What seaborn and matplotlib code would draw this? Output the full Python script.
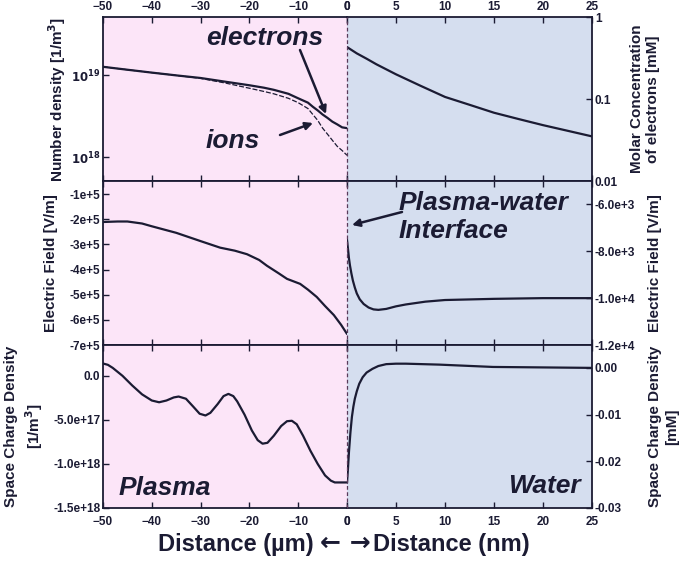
import numpy as np
import pandas as pd
import seaborn as sns
import matplotlib.pyplot as plt
from matplotlib.ticker import FixedLocator, FixedFormatter, NullLocator

# ---- data ----
# plasma side, x in micrometres
x_ne = [-50, -45, -40, -35, -30, -25, -20, -17, -15, -12, -10, -8, -7, -6, -5, -4, -3, -2, -1, 0]
n_electrons = [1.26e19, 1.16e19, 1.07e19, 9.9e18, 9.2e18, 8.3e18, 7.5e18, 7.0e18, 6.6e18, 5.9e18,
               5.2e18, 4.6e18, 4.1e18, 3.7e18, 3.3e18, 3.0e18, 2.7e18, 2.5e18, 2.3e18, 2.25e18]
n_ions = [1.26e19, 1.16e19, 1.07e19, 9.9e18, 9.1e18, 8.0e18, 6.9e18, 6.3e18, 5.9e18, 5.2e18,
          4.6e18, 3.9e18, 3.3e18, 2.8e18, 2.25e18, 1.9e18, 1.6e18, 1.35e18, 1.2e18, 1.05e18]

x_ef = [-50, -47, -45, -42, -40, -35, -30, -26, -23, -20.5, -18, -16.4, -14, -12.3, -9.6,
        -8, -6.2, -4.5, -2.7, -1.2, 0]
e_field_plasma = [-2.11e5, -2.09e5, -2.09e5, -2.17e5, -2.28e5, -2.54e5, -2.87e5, -3.13e5,
                  -3.25e5, -3.39e5, -3.62e5, -3.85e5, -4.15e5, -4.37e5, -4.57e5, -4.8e5,
                  -5.09e5, -5.45e5, -5.81e5, -6.2e5, -6.56e5]

x_sc = [-50, -49, -48, -46, -44, -42, -40, -38.5, -37, -35.5, -34.5, -33, -31.5, -30.2, -29,
        -28, -26.5, -25.3, -24.3, -23.3, -22.5, -21, -19.5, -18.3, -17.3, -16.3, -15, -13.5,
        -12.3, -11.3, -10.3, -9, -7.5, -6, -4.5, -3.3, -2.5, -1, 0]
sc_plasma = [0.14e18, 0.125e18, 0.09e18, 0.0, -0.11e18, -0.21e18, -0.28e18, -0.30e18,
             -0.28e18, -0.245e18, -0.235e18, -0.26e18, -0.35e18, -0.43e18, -0.45e18,
             -0.42e18, -0.32e18, -0.23e18, -0.205e18, -0.23e18, -0.29e18, -0.44e18,
             -0.62e18, -0.73e18, -0.77e18, -0.76e18, -0.68e18, -0.57e18, -0.515e18,
             -0.51e18, -0.55e18, -0.68e18, -0.85e18, -1.0e18, -1.13e18, -1.19e18, -1.21e18,
             -1.21e18, -1.21e18]

# water side, x in nanometres
x_mc = [0, 1, 2, 3, 5, 7.5, 10, 12.5, 15, 17.5, 20, 22.5, 25]
molar_e = [0.43, 0.36, 0.31, 0.265, 0.20, 0.145, 0.106, 0.085, 0.068, 0.057, 0.048, 0.041, 0.035]

x_ew = [0, 0.1, 0.2, 0.3, 0.45, 0.6, 0.8, 1.0, 1.3, 1.7, 2.2, 2.7, 3.2, 4, 5, 6, 8, 10, 15, 20, 25]
e_field_water = [-7.5e3, -7.9e3, -8.3e3, -8.6e3, -8.95e3, -9.25e3, -9.55e3, -9.8e3, -10.05e3,
                 -10.25e3, -10.4e3, -10.48e3, -10.5e3, -10.46e3, -10.35e3, -10.27e3, -10.15e3,
                 -10.08e3, -10.03e3, -10.0e3, -10.0e3]

x_sw = [0, 0.1, 0.2, 0.35, 0.5, 0.65, 0.8, 1.0, 1.25, 1.6, 2.0, 2.6, 3.2, 4, 5, 6, 9.4, 14.9, 20, 25]
sc_water = [-0.0246, -0.0215, -0.0180, -0.0138, -0.0105, -0.0083, -0.0066, -0.0050, -0.0034,
            -0.0020, -0.0010, -0.0002, 0.0004, 0.0008, 0.0009, 0.0009, 0.0007, 0.0002, 0.0001, 0.0]

ticks_um = [-50, -40, -30, -20, -10, 0]
ticks_nm = [0, 5, 10, 15, 20, 25]

ink = '#1b1b33'
pink = '#fce5f8'
blue = '#d5deef'

sns.set_style('ticks')
plt.rcParams['font.family'] = ['Liberation Sans', 'DejaVu Sans']
plt.rcParams['font.weight'] = 'bold'
plt.rcParams['axes.labelweight'] = 'bold'
plt.rcParams['text.color'] = ink
plt.rcParams['axes.labelcolor'] = ink
plt.rcParams['xtick.color'] = ink
plt.rcParams['ytick.color'] = ink
plt.rcParams['mathtext.default'] = 'bf'

W, H = 685, 561
fig = plt.figure(figsize=(W / 100, H / 100), dpi=100)


def fx(px):
    return px / W


def fy(py):
    return 1 - py / H


x0, xm, x1 = 103, 347, 592
rows = [(17, 181), (181, 345), (345, 508)]

axes = []
for (top, bot) in rows:
    aL = fig.add_axes([fx(x0), fy(bot), fx(xm) - fx(x0), fy(top) - fy(bot)])
    aR = fig.add_axes([fx(xm), fy(bot), fx(x1) - fx(xm), fy(top) - fy(bot)])
    aL.set_facecolor(pink)
    aR.set_facecolor(blue)
    axes.append((aL, aR))

# ---- draw lines ----
(a1L, a1R), (a2L, a2R), (a3L, a3R) = axes
sns.lineplot(x=x_ne, y=n_electrons, ax=a1L, color=ink, lw=1.6)
sns.lineplot(x=x_ne, y=n_ions, ax=a1L, color=ink, lw=0.9, linestyle=(0, (4, 1.5)))
sns.lineplot(x=x_mc, y=molar_e, ax=a1R, color=ink, lw=1.6)
sns.lineplot(x=x_ef, y=e_field_plasma, ax=a2L, color=ink, lw=1.6)
sns.lineplot(x=x_ew, y=e_field_water, ax=a2R, color=ink, lw=1.6)
sns.lineplot(x=x_sc, y=sc_plasma, ax=a3L, color=ink, lw=1.6)
sns.lineplot(x=x_sw, y=sc_water, ax=a3R, color=ink, lw=1.6)

a1L.set_yscale('log')
a1R.set_yscale('log')
a1L.set_ylim(5.1e17, 5.1e19)
a1R.set_ylim(0.01, 1)
a2L.set_ylim(-7e5, -0.48e5)
a2R.set_ylim(-1.2e4, -5e3)
a3L.set_ylim(-1.5e18, 0.35e18)
a3R.set_ylim(-0.03, 0.0049)

a1L.yaxis.set_major_locator(FixedLocator([1e18, 1e19]))
a1L.yaxis.set_major_formatter(FixedFormatter([r'$10^{18}$', r'$10^{19}$']))
a1R.yaxis.set_major_locator(FixedLocator([0.01, 0.1, 1]))
a1R.yaxis.set_major_formatter(FixedFormatter(['0.01', '0.1', '1']))
for a in (a1L, a1R):
    a.yaxis.set_minor_locator(NullLocator())

ef_ticks = [-7e5, -6e5, -5e5, -4e5, -3e5, -2e5, -1e5]
a2L.yaxis.set_major_locator(FixedLocator(ef_ticks))
a2L.yaxis.set_major_formatter(FixedFormatter(['-7e+5', '-6e+5', '-5e+5', '-4e+5', '-3e+5', '-2e+5', '-1e+5']))
a2R.yaxis.set_major_locator(FixedLocator([-1.2e4, -1.0e4, -8e3, -6e3]))
a2R.yaxis.set_major_formatter(FixedFormatter(['-1.2e+4', '-1.0e+4', '-8.0e+3', '-6.0e+3']))
a3L.yaxis.set_major_locator(FixedLocator([-1.5e18, -1e18, -5e17, 0]))
a3L.yaxis.set_major_formatter(FixedFormatter(['-1.5e+18', '-1.0e+18', '-5.0e+17', '0.0']))
a3R.yaxis.set_major_locator(FixedLocator([-0.03, -0.02, -0.01, 0]))
a3R.yaxis.set_major_formatter(FixedFormatter(['-0.03', '-0.02', '-0.01', '0.00']))

for i, (aL, aR) in enumerate(axes):
    aL.set_xlim(-50, 0)
    aR.set_xlim(0, 25)
    aL.set_xticks(ticks_um)
    aR.set_xticks(ticks_nm)
    aR.yaxis.tick_right()
    aR.yaxis.set_label_position('right')
    for a in (aL, aR):
        a.tick_params(axis='both', direction='in', length=4, width=1.0, labelsize=8.5,
                      top=True, bottom=True, pad=2)
        a.tick_params(axis='x', labeltop=(i == 0), labelbottom=(i == 2), pad=3 if i == 0 else 6)
        for s in a.spines.values():
            s.set_color(ink)
            s.set_linewidth(1.3)
        for lab in a.get_xticklabels() + a.get_yticklabels():
            lab.set_fontweight('bold')
    aL.spines['right'].set_visible(False)
    aR.spines['left'].set_visible(False)
    aL.tick_params(axis='y', left=True, right=False)
    aR.tick_params(axis='y', left=False, right=True, labelright=True, labelleft=False)
    aR.axvline(0, color='#5a3a5a', lw=0.9, ls=(0, (3, 2)), clip_on=False, zorder=5)
    aL.set_xlabel('')
    aR.set_xlabel('')

# ---- axis labels ----
lab_fs = 11
a1L.set_ylabel('Number density [1/m$^3$]', fontsize=lab_fs)
a2L.set_ylabel('Electric Field [V/m]', fontsize=lab_fs)
a3L.set_ylabel('Space Charge Density\n[1/m$^3$]', fontsize=lab_fs, linespacing=1.3)
a1R.set_ylabel('Molar Concentration\nof electrons [mM]', fontsize=lab_fs, linespacing=1.15)
a2R.set_ylabel('Electric Field [V/m]', fontsize=lab_fs)
a3R.set_ylabel('Space Charge Density\n[mM]', fontsize=lab_fs, linespacing=1.3)
a1L.yaxis.set_label_coords(-0.143, 0.5)
a2L.yaxis.set_label_coords(-0.184, 0.5)
a3L.yaxis.set_label_coords(-0.238, 0.5)
a1R.yaxis.set_label_coords(1.155, 0.5)
a2R.yaxis.set_label_coords(1.229, 0.5)
a3R.yaxis.set_label_coords(1.229, 0.5)

# ---- overlay for annotations, in figure pixels ----
ov = fig.add_axes([0, 0, 1, 1])
ov.set_xlim(0, W)
ov.set_ylim(H, 0)
ov.axis('off')

ov.text(314, 544, 'Distance (µm)', fontsize=17, fontweight='bold', ha='right', va='center')
ov.text(345, 543, '\u2190 \u2192', fontsize=18, fontweight='bold', ha='center', va='center',
        family=['DejaVu Sans'])
ov.text(373, 544, 'Distance (nm)', fontsize=17, fontweight='bold', ha='left', va='center')

big = dict(fontsize=19, fontweight='bold', fontstyle='italic', color=ink)
ov.text(265, 38, 'electrons', ha='center', va='center', **big)
ov.text(233, 141, 'ions', ha='center', va='center', **big)
ov.text(399, 217, 'Plasma-water\nInterface', ha='left', va='center', linespacing=1.2, **big)
ov.text(165, 488, 'Plasma', ha='center', va='center', **big)
ov.text(544, 486, 'Water', ha='center', va='center', **big)

arrow = dict(arrowstyle='-|>', lw=1.8, color=ink, mutation_scale=11, shrinkA=0, shrinkB=0)
for (p_from, p_to) in [((300, 50), (326, 114)), ((280, 135), (313, 123)), ((402, 212), (352, 225))]:
    ov.annotate('', xy=p_to, xytext=p_from, arrowprops=arrow, annotation_clip=False)

fig.savefig('out.png', dpi=100)
